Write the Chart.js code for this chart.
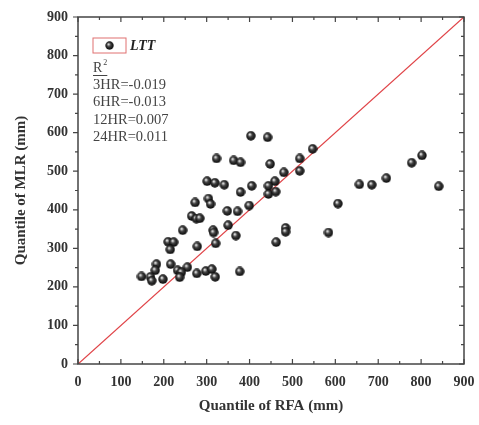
<!DOCTYPE html>
<html>
<head>
<meta charset="utf-8">
<script src="https://cdn.jsdelivr.net/npm/chart.js@4.4.1/dist/chart.umd.min.js"></script>
<style>
  html, body { margin: 0; padding: 0; background: #fff; }
  #wrap { width: 479px; height: 425px; }
</style>
</head>
<body>
<div id="wrap"><canvas id="qq"></canvas></div>
<script>

// quantile pairs (RFA on x, MLR on y, mm)
const rfa = [403, 442, 547, 323, 363, 379, 448, 517, 802, 778,
             480, 517, 301, 319, 341, 405, 459, 444, 444, 461,
             379, 719, 656, 685, 841, 273, 304, 309, 399, 606,
             348, 372, 265, 276, 284, 350, 244, 315, 316, 484,
             484, 584, 368, 210, 223, 215, 278, 321, 462, 183,
             216, 180, 232, 255, 241, 148, 169, 172, 198, 237,
             277, 298, 312, 320, 377];
const mlr = [592, 588, 558, 533, 528, 523, 519, 533, 541, 522,
             497, 501, 474, 470, 465, 462, 474, 462, 441, 447,
             446, 482, 466, 465, 461, 419, 429, 415, 411, 416,
             397, 396, 384, 377, 378, 360, 347, 347, 341, 353,
             343, 341, 333, 317, 316, 297, 305, 313, 316, 259,
             259, 243, 243, 251, 238, 227, 226, 216, 220, 225,
             235, 241, 246, 226, 240];

const refLine = [0, 900];
const axisTicks = [0, 100, 200, 300, 400, 500, 600, 700, 800, 900];

const legendLabel = "LTT";
const statLines = ["3HR=-0.019", "6HR=-0.013", "12HR=0.007", "24HR=0.011"];

// little shaded ball used as the marker
function makeBall(size) {
    const c = document.createElement("canvas");
    c.width = size;
    c.height = size;
    const g = c.getContext("2d");
    const r = size / 2;
    const grad = g.createRadialGradient(r * 0.75, r * 0.7, r * 0.1, r, r, r);
    grad.addColorStop(0, "#e8e8e8");
    grad.addColorStop(0.35, "#444");
    grad.addColorStop(1, "#000");
    g.fillStyle = grad;
    g.beginPath();
    g.arc(r, r, r - 0.3, 0, Math.PI * 2);
    g.fill();
    return c;
}

const ball = makeBall(10);

const points = rfa.map((x, i) => ({ x: x, y: mlr[i] }));

const serif = "'Liberation Serif', 'Times New Roman', serif";

// frame + tick marks (left outward, others inward), and the text box
const decor = {
    id: "decor",
    afterDraw(chart) {
        const ctx = chart.ctx;
        const a = chart.chartArea;
        const xs = chart.scales.x;
        const ys = chart.scales.y;

        ctx.save();
        ctx.strokeStyle = "#444";
        ctx.lineWidth = 1.5;
        ctx.strokeRect(a.left, a.top, a.right - a.left, a.bottom - a.top);

        ctx.lineWidth = 1.2;
        ctx.beginPath();
        for (let v = 0; v <= 900; v += 50) {
            const len = v % 100 === 0 ? 5 : 3;
            const px = xs.getPixelForValue(v);
            ctx.moveTo(px, a.bottom);
            ctx.lineTo(px, a.bottom - len);
            ctx.moveTo(px, a.top);
            ctx.lineTo(px, a.top + len);

            const py = ys.getPixelForValue(v);
            ctx.moveTo(a.left, py);
            ctx.lineTo(a.left - len, py);
            ctx.moveTo(a.right, py);
            ctx.lineTo(a.right - len, py);
        }
        ctx.stroke();

        // legend box
        const bx = a.left + 15, by = a.top + 21;
        ctx.strokeStyle = "#e07070";
        ctx.lineWidth = 1;
        ctx.strokeRect(bx, by, 33, 15);
        ctx.drawImage(ball, bx + 12, by + 3, 9, 9);

        ctx.fillStyle = "#222";
        ctx.textBaseline = "middle";
        ctx.font = "italic bold 14px " + serif;
        ctx.fillText(legendLabel, bx + 37, by + 8);

        ctx.fillStyle = "#444";
        ctx.font = "14px " + serif;
        ctx.fillText("R", bx, by + 30);
        const rw = ctx.measureText("R").width;
        ctx.font = "8px " + serif;
        ctx.fillText("2", bx + rw + 1, by + 25);
        ctx.strokeStyle = "#444";
        ctx.beginPath();
        ctx.moveTo(bx, by + 37.5);
        ctx.lineTo(bx + rw + 5, by + 37.5);
        ctx.stroke();

        ctx.font = "14.5px " + serif;
        statLines.forEach((t, i) => {
            ctx.fillText(t, bx, by + 47 + i * 17.5);
        });
        ctx.restore();
    }
};

new Chart(document.getElementById("qq"), {
    type: "scatter",
    data: {
        datasets: [
            {
                label: legendLabel,
                data: points,
                pointStyle: ball,
                pointRadius: 5,
                pointHoverRadius: 5
            },
            {
                type: "line",
                label: "1:1",
                data: refLine.map(v => ({ x: v, y: v })),
                borderColor: "#e04448",
                borderWidth: 1.3,
                pointRadius: 0,
                fill: false
            }
        ]
    },
    options: {
        responsive: true,
        maintainAspectRatio: false,
        animation: false,
        events: [],
        layout: { padding: { left: 8, top: 17, right: 15, bottom: 6 } },
        plugins: {
            legend: { display: false },
            tooltip: { enabled: false }
        },
        scales: {
            x: {
                type: "linear",
                min: 0,
                max: 900,
                afterBuildTicks: s => { s.ticks = axisTicks.map(v => ({ value: v })); },
                afterFit: s => {
                    s.height = 55;
                    s.paddingLeft = 0;
                    s.paddingRight = 0;
                },
                grid: { display: false, drawTicks: false },
                border: { display: false },
                ticks: {
                    padding: 10,
                    color: "#333",
                    font: { family: serif, size: 14, weight: "bold" }
                },
                title: {
                    display: true,
                    text: "Quantile of RFA (mm)",
                    color: "#333",
                    padding: { top: 2, bottom: 4 },
                    font: { family: serif, size: 15, weight: "bold" }
                }
            },
            y: {
                type: "linear",
                min: 0,
                max: 900,
                afterBuildTicks: s => { s.ticks = axisTicks.map(v => ({ value: v })); },
                afterFit: s => {
                    s.width = 70;
                    s.paddingTop = 0;
                    s.paddingBottom = 0;
                },
                grid: { display: false, drawTicks: false },
                border: { display: false },
                ticks: {
                    padding: 10,
                    color: "#333",
                    font: { family: serif, size: 14, weight: "bold" }
                },
                title: {
                    display: true,
                    text: "Quantile of MLR (mm)",
                    color: "#333",
                    padding: { top: 4, bottom: 2 },
                    font: { family: serif, size: 15, weight: "bold" }
                }
            }
        }
    },
    plugins: [decor]
});
</script>
</body>
</html>
